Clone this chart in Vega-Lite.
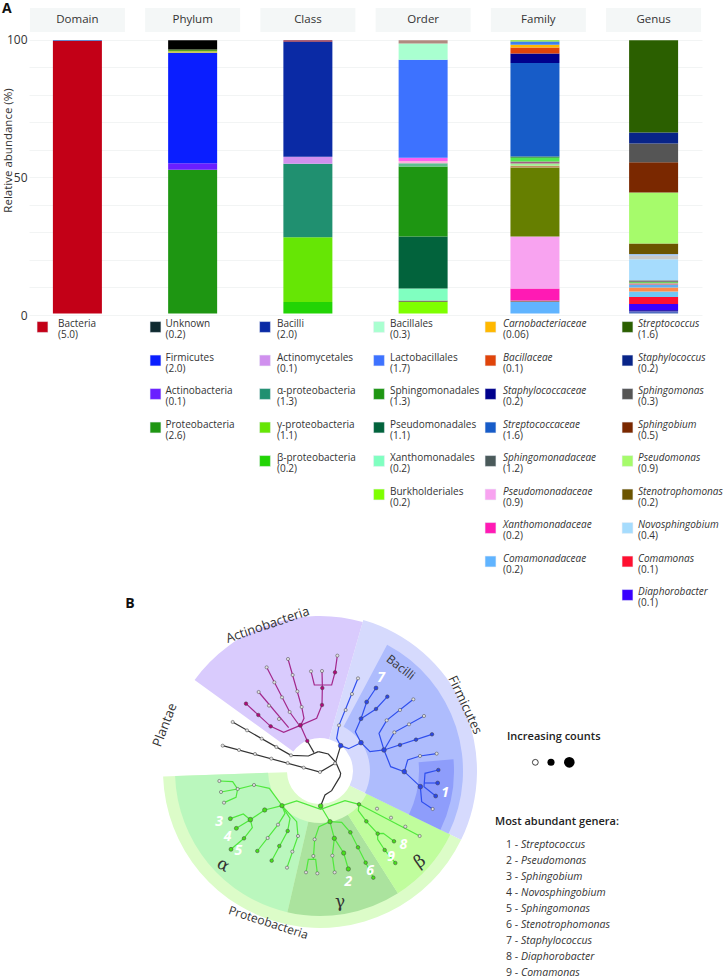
{
"$schema":"https://vega.github.io/schema/vega-lite/v6.json",
"padding":{"left":2,"top":2,"right":0,"bottom":0},
"bounds":"flush",
"spacing":0,
"config":{"font":"Open Sans","view":{"stroke":null},"text":{"color":"#333"}},
"resolve":{"scale":{"color":"independent"}},
"datasets":{
"headers":[{"level":"Domain","low":102.9,"high":111.6,"mid":107.2},{"level":"Phylum","low":102.9,"high":111.6,"mid":107.2},{"level":"Class","low":102.9,"high":111.6,"mid":107.2},{"level":"Order","low":102.9,"high":111.6,"mid":107.2},{"level":"Family","low":102.9,"high":111.6,"mid":107.2},{"level":"Genus","low":102.9,"high":111.6,"mid":107.2}],
"segments":[
{"level":"Domain","taxon":"Bacteria","low":0.5,"high":99.6},{"level":"Domain","taxon":"Other D","low":99.6,"high":99.95},
{"level":"Phylum","taxon":"Proteobacteria","low":0.5,"high":52.8},{"level":"Phylum","taxon":"Actinobacteria","low":52.8,"high":55.2},{"level":"Phylum","taxon":"Firmicutes","low":55.2,"high":95.3},{"level":"Phylum","taxon":"Other P1","low":95.3,"high":95.9},{"level":"Phylum","taxon":"Other P2","low":95.9,"high":96.5},{"level":"Phylum","taxon":"Unknown","low":96.5,"high":99.9},
{"level":"Class","taxon":"β-proteobacteria","low":0.5,"high":4.7},{"level":"Class","taxon":"γ-proteobacteria","low":4.7,"high":28.3},{"level":"Class","taxon":"α-proteobacteria","low":28.3,"high":55},{"level":"Class","taxon":"Actinomycetales","low":55,"high":57.5},{"level":"Class","taxon":"Bacilli","low":57.5,"high":99.3},{"level":"Class","taxon":"Other C","low":99.3,"high":99.9},
{"level":"Order","taxon":"Burkholderiales","low":0.5,"high":4.7},{"level":"Order","taxon":"Other O1","low":4.7,"high":5.3},{"level":"Order","taxon":"Xanthomonadales","low":5.3,"high":9.6},{"level":"Order","taxon":"Pseudomonadales","low":9.6,"high":28.5},{"level":"Order","taxon":"Sphingomonadales","low":28.5,"high":54},{"level":"Order","taxon":"Other O2","low":54,"high":55.2},{"level":"Order","taxon":"Other O3","low":55.2,"high":56},{"level":"Order","taxon":"Other O4","low":56,"high":57.2},{"level":"Order","taxon":"Lactobacillales","low":57.2,"high":92.8},{"level":"Order","taxon":"Bacillales","low":92.8,"high":98.7},{"level":"Order","taxon":"Other O5","low":98.7,"high":99.9},
{"level":"Family","taxon":"Comamonadaceae","low":0.5,"high":4.7},{"level":"Family","taxon":"Other F1","low":4.7,"high":5.3},{"level":"Family","taxon":"Xanthomonadaceae","low":5.3,"high":9.6},{"level":"Family","taxon":"Pseudomonadaceae","low":9.6,"high":28.5},{"level":"Family","taxon":"Sphingomonadaceae","low":28.5,"high":53.6},{"level":"Family","taxon":"Other F2","low":53.6,"high":54.3},{"level":"Family","taxon":"Other F3","low":54.3,"high":55.1},{"level":"Family","taxon":"Other F4","low":55.1,"high":55.8},{"level":"Family","taxon":"Other F5","low":55.8,"high":57.2},{"level":"Family","taxon":"Other F6","low":57.2,"high":57.6},{"level":"Family","taxon":"Streptococcaceae","low":57.6,"high":91.6},{"level":"Family","taxon":"Staphylococcaceae","low":91.6,"high":95.1},{"level":"Family","taxon":"Bacillaceae","low":95.1,"high":97.2},{"level":"Family","taxon":"Carnobacteriaceae","low":97.2,"high":98.2},{"level":"Family","taxon":"Other F7","low":98.2,"high":99.4},{"level":"Family","taxon":"Other F8","low":99.4,"high":99.9},
{"level":"Genus","taxon":"Other G1","low":0.5,"high":1.3},{"level":"Genus","taxon":"Other G2","low":1.3,"high":1.8},{"level":"Genus","taxon":"Diaphorobacter","low":1.8,"high":4},{"level":"Genus","taxon":"Comamonas","low":4,"high":6.5},{"level":"Genus","taxon":"Other G3","low":6.5,"high":8.5},{"level":"Genus","taxon":"Other G4","low":8.5,"high":10},{"level":"Genus","taxon":"Other G5","low":10,"high":10.9},{"level":"Genus","taxon":"Other G6","low":10.9,"high":11.5},{"level":"Genus","taxon":"Other G7","low":11.5,"high":12},{"level":"Genus","taxon":"Other G8","low":12,"high":12.6},{"level":"Genus","taxon":"Novosphingobium","low":12.6,"high":20.3},{"level":"Genus","taxon":"Other G9","low":20.3,"high":21.5},{"level":"Genus","taxon":"Other G10","low":21.5,"high":22.2},{"level":"Genus","taxon":"Stenotrophomonas","low":22.2,"high":26},{"level":"Genus","taxon":"Pseudomonas","low":26,"high":44.5},{"level":"Genus","taxon":"Sphingobium","low":44.5,"high":55.5},{"level":"Genus","taxon":"Sphingomonas","low":55.5,"high":62.3},{"level":"Genus","taxon":"Staphylococcus","low":62.3,"high":66.3},{"level":"Genus","taxon":"Streptococcus","low":66.3,"high":99.9}
],
"legend":[
{"col":1,"rank":0,"name":"Bacteria","n":"(5.0)"},
{"col":2,"rank":0,"name":"Unknown","n":"(0.2)"},{"col":2,"rank":1,"name":"Firmicutes","n":"(2.0)"},{"col":2,"rank":2,"name":"Actinobacteria","n":"(0.1)"},{"col":2,"rank":3,"name":"Proteobacteria","n":"(2.6)"},
{"col":3,"rank":0,"name":"Bacilli","n":"(2.0)"},{"col":3,"rank":1,"name":"Actinomycetales","n":"(0.1)"},{"col":3,"rank":2,"name":"α-proteobacteria","n":"(1.3)"},{"col":3,"rank":3,"name":"γ-proteobacteria","n":"(1.1)"},{"col":3,"rank":4,"name":"β-proteobacteria","n":"(0.2)"},
{"col":4,"rank":0,"name":"Bacillales","n":"(0.3)"},{"col":4,"rank":1,"name":"Lactobacillales","n":"(1.7)"},{"col":4,"rank":2,"name":"Sphingomonadales","n":"(1.3)"},{"col":4,"rank":3,"name":"Pseudomonadales","n":"(1.1)"},{"col":4,"rank":4,"name":"Xanthomonadales","n":"(0.2)"},{"col":4,"rank":5,"name":"Burkholderiales","n":"(0.2)"},
{"col":5,"rank":0,"name":"Carnobacteriaceae","n":"(0.06)"},{"col":5,"rank":1,"name":"Bacillaceae","n":"(0.1)"},{"col":5,"rank":2,"name":"Staphylococcaceae","n":"(0.2)"},{"col":5,"rank":3,"name":"Streptococcaceae","n":"(1.6)"},{"col":5,"rank":4,"name":"Sphingomonadaceae","n":"(1.2)"},{"col":5,"rank":5,"name":"Pseudomonadaceae","n":"(0.9)"},{"col":5,"rank":6,"name":"Xanthomonadaceae","n":"(0.2)"},{"col":5,"rank":7,"name":"Comamonadaceae","n":"(0.2)"},
{"col":6,"rank":0,"name":"Streptococcus","n":"(1.6)"},{"col":6,"rank":1,"name":"Staphylococcus","n":"(0.2)"},{"col":6,"rank":2,"name":"Sphingomonas","n":"(0.3)"},{"col":6,"rank":3,"name":"Sphingobium","n":"(0.5)"},{"col":6,"rank":4,"name":"Pseudomonas","n":"(0.9)"},{"col":6,"rank":5,"name":"Stenotrophomonas","n":"(0.2)"},{"col":6,"rank":6,"name":"Novosphingobium","n":"(0.4)"},{"col":6,"rank":7,"name":"Comamonas","n":"(0.1)"},{"col":6,"rank":8,"name":"Diaphorobacter","n":"(0.1)"}
],
"sectors":[
{"sector":"Proteobacteria","cx":510,"cy":603,"t0":116,"t1":268,"r0":33,"r1":157},
{"sector":"Firmicutes","cx":510,"cy":603,"t0":16,"t1":116,"r0":33,"r1":157},
{"sector":"Actinobacteria","cx":510,"cy":603,"t0":306,"t1":376,"r0":33,"r1":155},
{"sector":"Alpha","cx":510,"cy":603,"t0":193,"t1":268,"r0":52,"r1":145},
{"sector":"Gamma","cx":510,"cy":603,"t0":147.5,"t1":193,"r0":52,"r1":145},
{"sector":"Beta","cx":510,"cy":603,"t0":116,"t1":147.5,"r0":52,"r1":145},
{"sector":"Bacilli","cx":510,"cy":603,"t0":28,"t1":116,"r0":50,"r1":143},
{"sector":"Lactobacillales","cx":510,"cy":603,"t0":85,"t1":116,"r0":99,"r1":134}
],
"branches":[
{"b":"k1","c":"Root","i":0,"x":248,"y":456},{"b":"k1","c":"Root","i":1,"x":423,"y":556},{"b":"k1","c":"Root","i":2,"x":475,"y":558},{"b":"k1","c":"Root","i":3,"x":505,"y":545},
{"b":"k2","c":"Root","i":0,"x":218,"y":527},{"b":"k2","c":"Root","i":1,"x":510,"y":606},{"b":"k2","c":"Root","i":2,"x":558,"y":578},
{"b":"k3","c":"Root","i":0,"x":505,"y":545},{"b":"k3","c":"Root","i":1,"x":535,"y":552},{"b":"k3","c":"Root","i":2,"x":558,"y":578},{"b":"k3","c":"Root","i":3,"x":572,"y":610},{"b":"k3","c":"Root","i":4,"x":570,"y":620},{"b":"k3","c":"Root","i":5,"x":545,"y":662},{"b":"k3","c":"Root","i":6,"x":525,"y":675},{"b":"k3","c":"Root","i":7,"x":512,"y":708},
{"b":"k4","c":"Root","i":0,"x":472,"y":513},{"b":"k4","c":"Root","i":1,"x":492,"y":548},
{"b":"k5","c":"Root","i":0,"x":572,"y":527},{"b":"k5","c":"Root","i":1,"x":556,"y":580},
{"b":"a1","c":"Actino","i":0,"x":472,"y":513},{"b":"a1","c":"Actino","i":1,"x":451,"y":466},{"b":"a1","c":"Actino","i":2,"x":500,"y":445},{"b":"a1","c":"Actino","i":3,"x":516,"y":405},{"b":"a1","c":"Actino","i":4,"x":517,"y":354},{"b":"a1","c":"Actino","i":5,"x":517,"y":345},
{"b":"a2","c":"Actino","i":0,"x":483,"y":304},{"b":"a2","c":"Actino","i":1,"x":493,"y":345},{"b":"a2","c":"Actino","i":2,"x":545,"y":345},{"b":"a2","c":"Actino","i":3,"x":555,"y":307},{"b":"a2","c":"Actino","i":4,"x":562,"y":257},
{"b":"a3","c":"Actino","i":0,"x":516,"y":303},{"b":"a3","c":"Actino","i":1,"x":517,"y":345},
{"b":"a4","c":"Actino","i":0,"x":414,"y":267},{"b":"a4","c":"Actino","i":1,"x":455,"y":411},{"b":"a4","c":"Actino","i":2,"x":462,"y":445},{"b":"a4","c":"Actino","i":3,"x":453,"y":464},
{"b":"a5","c":"Actino","i":0,"x":350,"y":292},{"b":"a5","c":"Actino","i":1,"x":419,"y":426},{"b":"a5","c":"Actino","i":2,"x":445,"y":462},
{"b":"a6","c":"Actino","i":0,"x":326,"y":366},{"b":"a6","c":"Actino","i":1,"x":416,"y":473},
{"b":"a7","c":"Actino","i":0,"x":288,"y":401},{"b":"a7","c":"Actino","i":1,"x":362,"y":469},{"b":"a7","c":"Actino","i":2,"x":401,"y":487},{"b":"a7","c":"Actino","i":3,"x":451,"y":466},
{"b":"f1","c":"Firm","i":0,"x":572,"y":527},{"b":"f1","c":"Firm","i":1,"x":596,"y":536},{"b":"f1","c":"Firm","i":2,"x":633,"y":518},{"b":"f1","c":"Firm","i":3,"x":660,"y":545},{"b":"f1","c":"Firm","i":4,"x":702,"y":540},{"b":"f1","c":"Firm","i":5,"x":722,"y":590},{"b":"f1","c":"Firm","i":6,"x":763,"y":605},{"b":"f1","c":"Firm","i":7,"x":811,"y":650},
{"b":"f2","c":"Firm","i":0,"x":572,"y":527},{"b":"f2","c":"Firm","i":1,"x":560,"y":505},{"b":"f2","c":"Firm","i":2,"x":567,"y":466},{"b":"f2","c":"Firm","i":3,"x":624,"y":325},
{"b":"f3","c":"Firm","i":0,"x":633,"y":518},{"b":"f3","c":"Firm","i":1,"x":616,"y":485},{"b":"f3","c":"Firm","i":2,"x":633,"y":446},{"b":"f3","c":"Firm","i":3,"x":650,"y":396},{"b":"f3","c":"Firm","i":4,"x":678,"y":354},
{"b":"f4","c":"Firm","i":0,"x":633,"y":446},{"b":"f4","c":"Firm","i":1,"x":678,"y":417},{"b":"f4","c":"Firm","i":2,"x":712,"y":380},
{"b":"f5","c":"Firm","i":0,"x":702,"y":540},{"b":"f5","c":"Firm","i":1,"x":687,"y":490},{"b":"f5","c":"Firm","i":2,"x":710,"y":451},{"b":"f5","c":"Firm","i":3,"x":790,"y":388},
{"b":"f6","c":"Firm","i":0,"x":702,"y":540},{"b":"f6","c":"Firm","i":1,"x":733,"y":487},{"b":"f6","c":"Firm","i":2,"x":822,"y":438},
{"b":"f7","c":"Firm","i":0,"x":702,"y":540},{"b":"f7","c":"Firm","i":1,"x":846,"y":493},
{"b":"f8","c":"Firm","i":0,"x":763,"y":605},{"b":"f8","c":"Firm","i":1,"x":773,"y":570},{"b":"f8","c":"Firm","i":2,"x":810,"y":558},{"b":"f8","c":"Firm","i":3,"x":860,"y":551},
{"b":"f9","c":"Firm","i":0,"x":865,"y":600},{"b":"f9","c":"Firm","i":1,"x":825,"y":610},{"b":"f9","c":"Firm","i":2,"x":822,"y":650},{"b":"f9","c":"Firm","i":3,"x":857,"y":678},
{"b":"f10","c":"Firm","i":0,"x":822,"y":639},{"b":"f10","c":"Firm","i":1,"x":863,"y":639},
{"b":"f11","c":"Firm","i":0,"x":811,"y":650},{"b":"f11","c":"Firm","i":1,"x":815,"y":695},{"b":"f11","c":"Firm","i":2,"x":848,"y":717},
{"b":"p1","c":"Prot","i":0,"x":396,"y":707},{"b":"p1","c":"Prot","i":1,"x":440,"y":693},{"b":"p1","c":"Prot","i":2,"x":512,"y":718},{"b":"p1","c":"Prot","i":3,"x":585,"y":692},{"b":"p1","c":"Prot","i":4,"x":627,"y":703},
{"b":"p2","c":"Prot","i":0,"x":512,"y":708},{"b":"p2","c":"Prot","i":1,"x":540,"y":755},{"b":"p2","c":"Prot","i":2,"x":507,"y":770},{"b":"p2","c":"Prot","i":3,"x":494,"y":808},{"b":"p2","c":"Prot","i":4,"x":490,"y":868},
{"b":"p3","c":"Prot","i":0,"x":468,"y":907},{"b":"p3","c":"Prot","i":1,"x":475,"y":868},{"b":"p3","c":"Prot","i":2,"x":497,"y":868},{"b":"p3","c":"Prot","i":3,"x":502,"y":910},
{"b":"p4","c":"Prot","i":0,"x":540,"y":755},{"b":"p4","c":"Prot","i":1,"x":545,"y":775},{"b":"p4","c":"Prot","i":2,"x":553,"y":805},{"b":"p4","c":"Prot","i":3,"x":547,"y":857},{"b":"p4","c":"Prot","i":4,"x":554,"y":907},
{"b":"p5","c":"Prot","i":0,"x":553,"y":805},{"b":"p5","c":"Prot","i":1,"x":581,"y":849},{"b":"p5","c":"Prot","i":2,"x":595,"y":897},
{"b":"p6","c":"Prot","i":0,"x":540,"y":755},{"b":"p6","c":"Prot","i":1,"x":575,"y":757},{"b":"p6","c":"Prot","i":2,"x":601,"y":787},{"b":"p6","c":"Prot","i":3,"x":670,"y":923},
{"b":"p7","c":"Prot","i":0,"x":627,"y":703},{"b":"p7","c":"Prot","i":1,"x":809,"y":798},
{"b":"p8","c":"Prot","i":0,"x":627,"y":703},{"b":"p8","c":"Prot","i":1,"x":625,"y":722},{"b":"p8","c":"Prot","i":2,"x":649,"y":754},{"b":"p8","c":"Prot","i":3,"x":683,"y":791},{"b":"p8","c":"Prot","i":4,"x":700,"y":790},{"b":"p8","c":"Prot","i":5,"x":732,"y":814},
{"b":"p9","c":"Prot","i":0,"x":683,"y":791},{"b":"p9","c":"Prot","i":1,"x":683,"y":808},{"b":"p9","c":"Prot","i":2,"x":704,"y":840},{"b":"p9","c":"Prot","i":3,"x":736,"y":879},
{"b":"p10","c":"Prot","i":0,"x":396,"y":707},{"b":"p10","c":"Prot","i":1,"x":344,"y":720},{"b":"p10","c":"Prot","i":2,"x":301,"y":749},{"b":"p10","c":"Prot","i":3,"x":280,"y":732},{"b":"p10","c":"Prot","i":4,"x":241,"y":746},
{"b":"p11","c":"Prot","i":0,"x":301,"y":749},{"b":"p11","c":"Prot","i":1,"x":259,"y":775},
{"b":"p12","c":"Prot","i":0,"x":301,"y":749},{"b":"p12","c":"Prot","i":1,"x":307,"y":773},{"b":"p12","c":"Prot","i":2,"x":282,"y":805},{"b":"p12","c":"Prot","i":3,"x":243,"y":838},
{"b":"p13","c":"Prot","i":0,"x":396,"y":707},{"b":"p13","c":"Prot","i":1,"x":358,"y":655},{"b":"p13","c":"Prot","i":2,"x":312,"y":645},{"b":"p13","c":"Prot","i":3,"x":263,"y":657},{"b":"p13","c":"Prot","i":4,"x":248,"y":635},{"b":"p13","c":"Prot","i":5,"x":208,"y":633},
{"b":"p14","c":"Prot","i":0,"x":213,"y":666},{"b":"p14","c":"Prot","i":1,"x":263,"y":657},{"b":"p14","c":"Prot","i":2,"x":258,"y":682},{"b":"p14","c":"Prot","i":3,"x":222,"y":698},
{"b":"p15","c":"Prot","i":0,"x":396,"y":707},{"b":"p15","c":"Prot","i":1,"x":405,"y":730},{"b":"p15","c":"Prot","i":2,"x":384,"y":764},{"b":"p15","c":"Prot","i":3,"x":322,"y":843},
{"b":"p16","c":"Prot","i":0,"x":396,"y":707},{"b":"p16","c":"Prot","i":1,"x":420,"y":745},{"b":"p16","c":"Prot","i":2,"x":413,"y":783},{"b":"p16","c":"Prot","i":3,"x":365,"y":872},
{"b":"p17","c":"Prot","i":0,"x":396,"y":707},{"b":"p17","c":"Prot","i":1,"x":440,"y":755},{"b":"p17","c":"Prot","i":2,"x":444,"y":798},{"b":"p17","c":"Prot","i":3,"x":411,"y":893}
],
"nodes":[
{"k":"open","s":"o","x":248,"y":456},{"k":"open","s":"o","x":291,"y":481},{"k":"open","s":"o","x":335,"y":506},{"k":"open","s":"o","x":379,"y":531},{"k":"open","s":"o","x":423,"y":556},
{"k":"open","s":"o","x":218,"y":527},{"k":"open","s":"o","x":267,"y":540},{"k":"open","s":"o","x":315,"y":552},{"k":"open","s":"o","x":364,"y":566},{"k":"open","s":"o","x":413,"y":579},{"k":"open","s":"o","x":461,"y":593},{"k":"open","s":"o","x":510,"y":606},{"k":"open","s":"o","x":555,"y":580},
{"k":"Actino","s":"s","x":472,"y":513},{"k":"Actino","s":"m","x":451,"y":466},{"k":"Actino","s":"s","x":516,"y":405},{"k":"Actino","s":"s","x":517,"y":354},{"k":"open","s":"o","x":483,"y":304},{"k":"open","s":"o","x":516,"y":303},{"k":"Actino","s":"s","x":555,"y":307},{"k":"open","s":"o","x":562,"y":257},
{"k":"open","s":"o","x":455,"y":411},{"k":"open","s":"o","x":442,"y":364},{"k":"open","s":"o","x":428,"y":315},{"k":"open","s":"o","x":414,"y":267},
{"k":"open","s":"o","x":350,"y":292},{"k":"open","s":"o","x":373,"y":337},{"k":"open","s":"o","x":396,"y":382},{"k":"open","s":"o","x":419,"y":426},
{"k":"open","s":"o","x":326,"y":366},{"k":"open","s":"o","x":357,"y":407},{"k":"open","s":"o","x":387,"y":447},
{"k":"Actino","s":"s","x":288,"y":401},{"k":"Actino","s":"s","x":325,"y":435},{"k":"Actino","s":"s","x":362,"y":469},
{"k":"Firm","s":"xl","x":572,"y":527},{"k":"Firm","s":"xl","x":633,"y":518},{"k":"Firm","s":"xl","x":702,"y":540},{"k":"Firm","s":"xl","x":763,"y":605},{"k":"Firm","s":"xl","x":811,"y":650},
{"k":"open","s":"o","x":567,"y":466},{"k":"open","s":"o","x":587,"y":420},{"k":"open","s":"o","x":606,"y":372},{"k":"open","s":"o","x":624,"y":325},
{"k":"Firm","s":"m","x":633,"y":446},{"k":"Firm","s":"m","x":650,"y":396},{"k":"Firm","s":"m","x":678,"y":354},{"k":"Firm","s":"s","x":678,"y":417},{"k":"Firm","s":"s","x":712,"y":380},
{"k":"open","s":"o","x":710,"y":451},{"k":"open","s":"o","x":750,"y":420},{"k":"open","s":"o","x":790,"y":388},{"k":"open","s":"o","x":733,"y":487},{"k":"open","s":"o","x":777,"y":463},{"k":"open","s":"o","x":822,"y":438},
{"k":"Firm","s":"s","x":750,"y":525},{"k":"Firm","s":"s","x":798,"y":509},{"k":"Firm","s":"s","x":846,"y":493},{"k":"open","s":"o","x":810,"y":558},{"k":"open","s":"o","x":860,"y":551},
{"k":"Firm","s":"s","x":865,"y":600},{"k":"Firm","s":"m","x":863,"y":639},{"k":"Firm","s":"m","x":857,"y":678},{"k":"open","s":"o","x":848,"y":717},
{"k":"Prot","s":"xl","x":512,"y":708},{"k":"Prot","s":"l","x":396,"y":707},{"k":"Prot","s":"s","x":627,"y":703},{"k":"Prot","s":"l","x":540,"y":755},
{"k":"open","s":"o","x":494,"y":808},{"k":"open","s":"o","x":490,"y":858},{"k":"open","s":"o","x":468,"y":907},{"k":"open","s":"o","x":502,"y":910},
{"k":"Prot","s":"l","x":553,"y":805},{"k":"open","s":"o","x":547,"y":857},{"k":"open","s":"o","x":554,"y":907},{"k":"Prot","s":"l","x":581,"y":849},{"k":"Prot","s":"l","x":595,"y":897},
{"k":"Prot","s":"s","x":601,"y":787},{"k":"Prot","s":"s","x":624,"y":832},{"k":"Prot","s":"s","x":647,"y":878},{"k":"Prot","s":"s","x":670,"y":923},
{"k":"open","s":"o","x":681,"y":716},{"k":"open","s":"o","x":723,"y":743},{"k":"open","s":"o","x":766,"y":770},{"k":"open","s":"o","x":809,"y":798},
{"k":"Prot","s":"s","x":649,"y":754},{"k":"Prot","s":"s","x":683,"y":791},{"k":"Prot","s":"s","x":732,"y":814},{"k":"Prot","s":"s","x":704,"y":840},{"k":"Prot","s":"s","x":736,"y":879},
{"k":"Prot","s":"l","x":344,"y":720},{"k":"Prot","s":"xl","x":301,"y":749},{"k":"Prot","s":"m","x":241,"y":746},{"k":"Prot","s":"m","x":259,"y":775},{"k":"Prot","s":"s","x":282,"y":805},{"k":"Prot","s":"m","x":243,"y":838},
{"k":"open","s":"o","x":312,"y":645},{"k":"open","s":"o","x":263,"y":657},{"k":"open","s":"o","x":208,"y":633},{"k":"open","s":"o","x":213,"y":666},{"k":"open","s":"o","x":222,"y":698},
{"k":"open","s":"o","x":384,"y":764},{"k":"open","s":"o","x":353,"y":804},{"k":"Prot","s":"s","x":322,"y":843},
{"k":"Prot","s":"s","x":413,"y":783},{"k":"Prot","s":"s","x":388,"y":828},{"k":"Prot","s":"s","x":365,"y":872},
{"k":"open","s":"o","x":444,"y":798},{"k":"open","s":"o","x":427,"y":845},{"k":"open","s":"o","x":411,"y":893}
]
},
"vconcat":[
{
"width":673,"height":307,
"title":{"text":"A","anchor":"start","frame":"group","fontSize":14,"fontWeight":"bold","color":"#111","dx":-27,"offset":-8},
"encoding":{
"x":{"field":"level","type":"nominal","sort":null,"scale":{"domain":["Domain","Phylum","Class","Order","Family","Genus"],"paddingInner":0.5,"paddingOuter":0.17},"axis":null},
"y":{"field":"low","type":"quantitative","scale":{"domain":[0,111.6],"nice":false},
"axis":{"values":[0,10,20,30,40,50,60,70,80,90,100],"labelExpr":"datum.value%50==0?datum.label:''","grid":true,"gridColor":"#f2f4f4","domain":false,"ticks":false,"title":"Relative abundance (%)","titleFontWeight":"normal","titleFontSize":11.5,"titleColor":"#333","labelFontSize":12,"labelColor":"#333","labelPadding":2,"titleX":-16,"titleY":142}}
},
"layer":[
{"data":{"name":"headers"},"mark":{"type":"bar","size":95,"color":"#f4f7f7"},"encoding":{"y2":{"field":"high"}}},
{"data":{"name":"headers"},"mark":{"type":"text","fontSize":11.5,"color":"#333"},"encoding":{"y":{"field":"mid","type":"quantitative"},"text":{"field":"level"}}},
{"data":{"name":"segments"},"mark":{"type":"bar","size":49,"xOffset":{"expr":"datum.level==='Family'?-3.4:0"}},
"encoding":{"y2":{"field":"high"},
"color":{"field":"taxon","type":"nominal","legend":null,"scale":{
"domain":["Bacteria","Other D","Proteobacteria","Actinobacteria","Firmicutes","Other P1","Other P2","Unknown","β-proteobacteria","γ-proteobacteria","α-proteobacteria","Actinomycetales","Bacilli","Other C","Burkholderiales","Other O1","Xanthomonadales","Pseudomonadales","Sphingomonadales","Other O2","Other O3","Other O4","Lactobacillales","Bacillales","Other O5","Comamonadaceae","Other F1","Xanthomonadaceae","Pseudomonadaceae","Sphingomonadaceae","Other F2","Other F3","Other F4","Other F5","Other F6","Streptococcaceae","Staphylococcaceae","Bacillaceae","Carnobacteriaceae","Other F7","Other F8","Other G1","Other G2","Diaphorobacter","Comamonas","Other G3","Other G4","Other G5","Other G6","Other G7","Other G8","Novosphingobium","Other G9","Other G10","Stenotrophomonas","Pseudomonas","Sphingobium","Sphingomonas","Staphylococcus","Streptococcus"],
"range":["#c30017","#6688cc","#1e9612","#6a1fff","#0a1eff","#c8c832","#5aa020","#000000","#22d405","#66e605","#209070","#d090ee","#0a2aa5","#903050","#7fff00","#808060","#80ffc0","#02633c","#1e9612","#60c090","#ffb0e0","#ff60f0","#3d72ff","#a9ffd0","#b08a80","#60b4ff","#a08080","#ff1ab4","#f8a3f0","#667f00","#c09060","#a0f090","#a06080","#50e850","#2a9030","#175cc8","#00008c","#e0440a","#ffb800","#3d80ef","#80e030","#5070c0","#3020b0","#3a00ff","#ff1030","#70c8f5","#ff8a4a","#60b0f0","#d090a0","#70d060","#808080","#a6dcfd","#c8c8c8","#a0c0e8","#6b5400","#a6fb6b","#7a2800","#555555","#082488","#2b5f00"]}}}}
]
},
{
"width":673,"height":285,
"data":{"name":"legend"},
"resolve":{"scale":{"x":"independent"}},
"encoding":{"y":{"field":"rank","type":"quantitative","axis":null,"scale":{"domain":[0,8],"range":[12,280],"nice":false,"zero":false}}},
"layer":[
{"mark":{"type":"point","shape":"square","filled":true,"size":118,"opacity":1,"stroke":"#e8ecf4","strokeWidth":0.5},
"encoding":{"x":{"field":"col","type":"quantitative","axis":null,"scale":{"domain":[1,2,3,4,5,6],"range":[13.5,126.5,236,350,461.5,598.5],"nice":false,"zero":false}},
"color":{"field":"name","type":"nominal","legend":null,"scale":{
"domain":["Bacteria","Unknown","Firmicutes","Actinobacteria","Proteobacteria","Bacilli","Actinomycetales","α-proteobacteria","γ-proteobacteria","β-proteobacteria","Bacillales","Lactobacillales","Sphingomonadales","Pseudomonadales","Xanthomonadales","Burkholderiales","Carnobacteriaceae","Bacillaceae","Staphylococcaceae","Streptococcaceae","Sphingomonadaceae","Pseudomonadaceae","Xanthomonadaceae","Comamonadaceae","Streptococcus","Staphylococcus","Sphingomonas","Sphingobium","Pseudomonas","Stenotrophomonas","Novosphingobium","Comamonas","Diaphorobacter"],
"range":["#c30017","#0f2a30","#0a1eff","#6a1fff","#1e9612","#0a2aa5","#d090ee","#209070","#66e605","#22d405","#a9ffd0","#3d72ff","#1e9612","#02633c","#80ffc0","#7fff00","#ffb800","#e0440a","#00008c","#175cc8","#4a5a5a","#f8a3f0","#ff1ab4","#60b4ff","#2b5f00","#082488","#555555","#7a2800","#a6fb6b","#6b5400","#a6dcfd","#ff1030","#3a00ff"]}}}},
{"transform":[{"filter":"datum.col<5"}],"mark":{"type":"text","align":"left","fontSize":10,"dy":-3,"color":"#333"},
"encoding":{"x":{"field":"col","type":"quantitative","axis":null,"scale":{"domain":[1,2,3,4,5,6],"range":[29,136.5,248,361,474,609],"nice":false,"zero":false}},"text":{"field":"name"}}},
{"transform":[{"filter":"datum.col>=5"}],"mark":{"type":"text","align":"left","fontSize":10,"dy":-3,"fontStyle":"italic","color":"#333"},
"encoding":{"x":{"field":"col","type":"quantitative","axis":null,"scale":{"domain":[1,2,3,4,5,6],"range":[29,136.5,248,361,474,609],"nice":false,"zero":false}},"text":{"field":"name"}}},
{"mark":{"type":"text","align":"left","fontSize":10,"dy":8,"color":"#333"},
"encoding":{"x":{"field":"col","type":"quantitative","axis":null,"scale":{"domain":[1,2,3,4,5,6],"range":[29,136.5,248,361,474,609],"nice":false,"zero":false}},"text":{"field":"n"}}}
]
},
{
"width":673,"height":379,
"layer":[
{"data":{"name":"sectors"},"mark":{"type":"arc"},
"encoding":{
"x":{"field":"cx","type":"quantitative","axis":null,"scale":{"domain":[-363,1656],"nice":false,"zero":false}},
"y":{"field":"cy","type":"quantitative","axis":null,"scale":{"domain":[90,1227],"nice":false,"zero":false,"reverse":true}},
"theta":{"field":"t0","type":"quantitative","stack":null,"scale":{"domain":[0,360],"range":[0,6.28319]}},"theta2":{"field":"t1"},
"radius":{"field":"r1","type":"quantitative","scale":{"type":"linear","domain":[0,160],"range":[0,160]}},"radius2":{"field":"r0"},
"fill":{"field":"sector","type":"nominal","legend":null,"scale":{"domain":["Proteobacteria","Firmicutes","Actinobacteria","Alpha","Gamma","Beta","Bacilli","Lactobacillales","open","Actino","Firm","Prot"],"range":["#dcfcc8","#d6dafd","#d9cbfd","#baf7bd","#abe39e","#c0fd9d","#aebcfd","#8e9dfb","#e0e0e0","#b0087a","#2a46e8","#46e01a"]}}}},
{"data":{"name":"branches"},"mark":{"type":"line","strokeWidth":1.2,"interpolate":"linear"},
"encoding":{"x":{"field":"x","type":"quantitative"},"y":{"field":"y","type":"quantitative"},"detail":{"field":"b"},"order":{"field":"i","type":"quantitative"},
"stroke":{"field":"c","type":"nominal","legend":null,"scale":{"domain":["Root","Actino","Firm","Prot"],"range":["#333333","#a3288c","#2f4fee","#4fe83c"]}}}},
{"data":{"name":"nodes"},"mark":{"type":"point","filled":true,"opacity":1,"stroke":"#444","strokeWidth":0.5},
"encoding":{"x":{"field":"x","type":"quantitative"},"y":{"field":"y","type":"quantitative"},"size":{"field":"s","type":"nominal","legend":null,"scale":{"domain":["o","s","m","l","xl"],"range":[10,22,36,60,90]}},
"fill":{"field":"k","type":"nominal","legend":null}}},
{"data":{"values":[{"x":1156,"y":577}]},"mark":{"type":"point","filled":true,"size":34,"fill":"#fff","stroke":"#111","strokeWidth":0.8,"opacity":1},"encoding":{"x":{"field":"x","type":"quantitative"},"y":{"field":"y","type":"quantitative"}}},
{"data":{"values":[{"x":1203,"y":577}]},"mark":{"type":"circle","color":"#000","opacity":1,"size":50},"encoding":{"x":{"field":"x","type":"quantitative"},"y":{"field":"y","type":"quantitative"}}},
{"data":{"values":[{"x":1258,"y":577}]},"mark":{"type":"circle","color":"#000","opacity":1,"size":113},"encoding":{"x":{"field":"x","type":"quantitative"},"y":{"field":"y","type":"quantitative"}}},
{"data":{"values":[{"x":353,"y":165,"t":"Actinobacteria"}]},"mark":{"type":"text","angle":341,"fontSize":13},"encoding":{"x":{"field":"x","type":"quantitative"},"y":{"field":"y","type":"quantitative"},"text":{"field":"t"}}},
{"data":{"values":[{"x":945,"y":405,"t":"Firmicutes"}]},"mark":{"type":"text","angle":65,"fontSize":13},"encoding":{"x":{"field":"x","type":"quantitative"},"y":{"field":"y","type":"quantitative"},"text":{"field":"t"}}},
{"data":{"values":[{"x":45,"y":465,"t":"Plantae"}]},"mark":{"type":"text","angle":291,"fontSize":13},"encoding":{"x":{"field":"x","type":"quantitative"},"y":{"field":"y","type":"quantitative"},"text":{"field":"t"}}},
{"data":{"values":[{"x":752,"y":292,"t":"Bacilli"}]},"mark":{"type":"text","angle":38,"fontSize":12},"encoding":{"x":{"field":"x","type":"quantitative"},"y":{"field":"y","type":"quantitative"},"text":{"field":"t"}}},
{"data":{"values":[{"x":355,"y":1058,"t":"Proteobacteria"}]},"mark":{"type":"text","angle":18,"fontSize":12},"encoding":{"x":{"field":"x","type":"quantitative"},"y":{"field":"y","type":"quantitative"},"text":{"field":"t"}}},
{"data":{"values":[{"x":220,"y":885,"t":"α"}]},"mark":{"type":"text","angle":30,"fontSize":17,"font":"DejaVu Serif"},"encoding":{"x":{"field":"x","type":"quantitative"},"y":{"field":"y","type":"quantitative"},"text":{"field":"t"}}},
{"data":{"values":[{"x":810,"y":875,"t":"β"}]},"mark":{"type":"text","angle":325,"fontSize":17,"font":"DejaVu Serif"},"encoding":{"x":{"field":"x","type":"quantitative"},"y":{"field":"y","type":"quantitative"},"text":{"field":"t"}}},
{"data":{"values":[{"x":570,"y":995,"t":"γ"}]},"mark":{"type":"text","fontSize":17,"font":"DejaVu Serif"},"encoding":{"x":{"field":"x","type":"quantitative"},"y":{"field":"y","type":"quantitative"},"text":{"field":"t"}}},
{"data":{"values":[{"x":885,"y":670,"t":"1"},{"x":595,"y":935,"t":"2"},{"x":207,"y":755,"t":"3"},{"x":233,"y":800,"t":"4"},{"x":265,"y":842,"t":"5"},{"x":660,"y":903,"t":"6"},{"x":693,"y":325,"t":"7"},{"x":760,"y":825,"t":"8"},{"x":723,"y":860,"t":"9"}]},"mark":{"type":"text","fontSize":14,"fontStyle":"italic","fontWeight":"bold","color":"#fff"},"encoding":{"x":{"field":"x","type":"quantitative"},"y":{"field":"y","type":"quantitative"},"text":{"field":"t"}}},
{"data":{"values":[{"x":-60,"y":102,"t":"B"}]},"mark":{"type":"text","fontSize":14,"fontWeight":"bold","color":"#111"},"encoding":{"x":{"field":"x","type":"quantitative"},"y":{"field":"y","type":"quantitative"},"text":{"field":"t"}}},
{"data":{"values":[{"x":1071,"y":501,"t":"Increasing counts"},{"x":1035,"y":755,"t":"Most abundant genera:"}]},"mark":{"type":"text","align":"left","fontSize":11,"fontWeight":600,"color":"#222"},"encoding":{"x":{"field":"x","type":"quantitative"},"y":{"field":"y","type":"quantitative"},"text":{"field":"t"}}},
{"data":{"values":[{"x":1068,"y":825,"t":"1 -"},{"x":1068,"y":873,"t":"2 -"},{"x":1068,"y":921,"t":"3 -"},{"x":1068,"y":969,"t":"4 -"},{"x":1068,"y":1017,"t":"5 -"},{"x":1068,"y":1065,"t":"6 -"},{"x":1068,"y":1113,"t":"7 -"},{"x":1068,"y":1161,"t":"8 -"},{"x":1068,"y":1209,"t":"9 -"}]},"mark":{"type":"text","align":"left","fontSize":10.5,"color":"#333"},"encoding":{"x":{"field":"x","type":"quantitative"},"y":{"field":"y","type":"quantitative"},"text":{"field":"t"}}},
{"data":{"values":[{"x":1113,"y":825,"t":"Streptococcus"},{"x":1113,"y":873,"t":"Pseudomonas"},{"x":1113,"y":921,"t":"Sphingobium"},{"x":1113,"y":969,"t":"Novosphingobium"},{"x":1113,"y":1017,"t":"Sphingomonas"},{"x":1113,"y":1065,"t":"Stenotrophomonas"},{"x":1113,"y":1113,"t":"Staphylococcus"},{"x":1113,"y":1161,"t":"Diaphorobacter"},{"x":1113,"y":1209,"t":"Comamonas"}]},"mark":{"type":"text","align":"left","fontSize":10.5,"fontStyle":"italic","color":"#333"},"encoding":{"x":{"field":"x","type":"quantitative"},"y":{"field":"y","type":"quantitative"},"text":{"field":"t"}}}
]
}
]
}
